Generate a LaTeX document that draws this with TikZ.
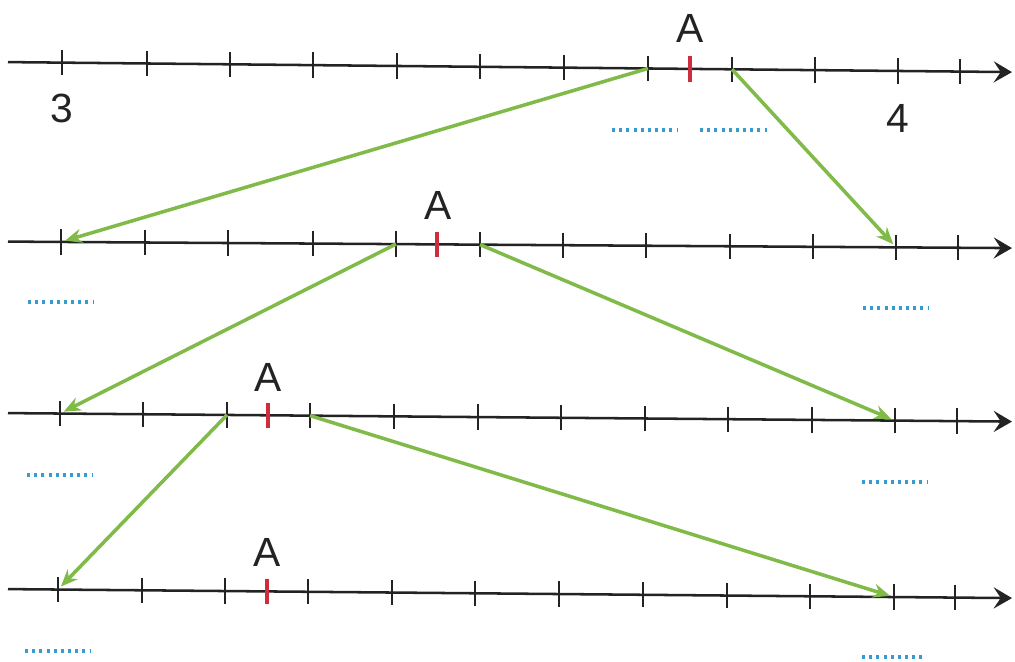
\documentclass[tikz,border=0pt]{standalone}
\usepackage{fontspec}
\setmainfont{Liberation Sans}
\usetikzlibrary{arrows.meta}

\definecolor{jumpgreen}{RGB}{128,186,72}
\definecolor{markred}{RGB}{205,45,60}
\definecolor{blankblue}{RGB}{55,155,205}
\definecolor{ink}{RGB}{35,35,35}

\begin{document}
\begin{tikzpicture}[x=0.025cm,y=-0.025cm,
      axis/.style={ink,line width=1.8pt,-{Stealth[length=13pt,width=15pt,inset=5pt]}},
      tk/.style={ink,line width=1.9pt},
      mk/.style={markred,line width=2.6pt},
      lbl/.style={ink,font=\fontsize{29}{31}\selectfont,inner sep=0pt},
      blank/.style={blankblue,line width=2.4pt,dash pattern=on 2.2pt off 2.9pt},
      jump/.style={jumpgreen,line width=2.5pt,-{Stealth[length=12pt,width=10pt]},shorten >=3pt}]
    \useasboundingbox (0,0) rectangle (1015,662);
    % line 1
    \draw[axis] (8,62.1) coordinate (s1) -- (1012,72.1) coordinate (e1);
    \foreach \x [count=\i] in {62,147,230,313,397,480,564,648,732,815,898,960}{
      \coordinate (p1-\i) at (\x,{62+0.01*\x});
      \draw[tk] ([yshift=9pt]p1-\i) -- ([yshift=-9pt]p1-\i);}
    \coordinate (a1) at (690,68.9);
    \draw[mk] ([yshift=9pt]a1) -- ([yshift=-9pt]a1);
    \node[lbl](la1) at (690,28)  {A};
    \node[lbl](n3)  at (62,108)  {3};
    \node[lbl](n4)  at (898,118) {4};
    \draw[blank] (612,130) -- (678,130);
    \draw[blank] (700,130) -- (767,130);
    % line 2
    \draw[axis] (8,241.6) coordinate (s2) -- (1012,248.1) coordinate (e2);
    \foreach \x [count=\i] in {61,145,228,313,396,480,563,646,730,813,896,958}{
      \coordinate (p2-\i) at (\x,{241.5+0.0065*\x});
      \draw[tk] ([yshift=9pt]p2-\i) -- ([yshift=-9pt]p2-\i);}
    \coordinate (a2) at (437,244.3);
    \draw[mk] ([yshift=9pt]a2) -- ([yshift=-9pt]a2);
    \node[lbl](la2) at (438,205) {A};
    \draw[blank] (28,302) -- (93,302);
    \draw[blank] (863,308) -- (928,308);
    % line 3
    \draw[axis] (8,413.1) coordinate (s3) -- (1012,421.6) coordinate (e3);
    \foreach \x [count=\i] in {60,143,227,310,394,478,561,645,728,812,895,957}{
      \coordinate (p3-\i) at (\x,{413+0.0085*\x});
      \draw[tk] ([yshift=9pt]p3-\i) -- ([yshift=-9pt]p3-\i);}
    \coordinate (a3) at (268,415.3);
    \draw[mk] ([yshift=9pt]a3) -- ([yshift=-9pt]a3);
    \node[lbl](la3) at (268,377) {A};
    \draw[blank] (27,475) -- (92,475);
    \draw[blank] (862,482) -- (928,482);
    % line 4
    \draw[axis] (8,589.1) coordinate (s4) -- (1012,598.1) coordinate (e4);
    \foreach \x [count=\i] in {58,142,225,308,392,475,559,643,727,810,894,955}{
      \coordinate (p4-\i) at (\x,{589+0.009*\x});
      \draw[tk] ([yshift=9pt]p4-\i) -- ([yshift=-9pt]p4-\i);}
    \coordinate (a4) at (267,591.4);
    \draw[mk] ([yshift=9pt]a4) -- ([yshift=-9pt]a4);
    \node[lbl](la4) at (267,552) {A};
    \draw[blank] (25,651) -- (90,651);
    \draw[blank] (862,657) -- (925,657);
    % zoom arrows
    \draw[jump](p1-8)--(p2-1);\draw[jump](p1-9)--(p2-11);
    \draw[jump](p2-5)--(p3-1);\draw[jump](p2-6)--(p3-11);
    \draw[jump](p3-3)--(p4-1);\draw[jump](p3-4)--(p4-11);
  \end{tikzpicture}
\end{document}
